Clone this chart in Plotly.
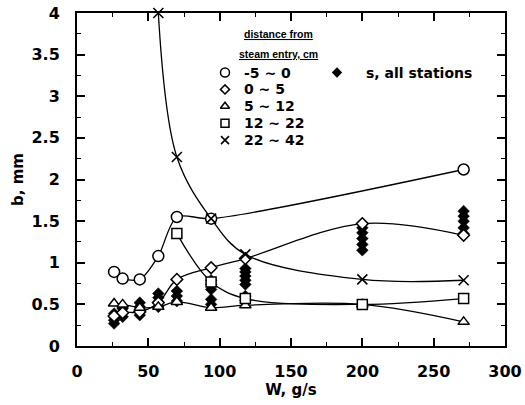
import plotly.graph_objects as go

# ---- data ----
W_c = [26, 32, 44, 57, 70, 94, 271]                 # -5 ~ 0   (open circles)
b_c = [0.89, 0.81, 0.80, 1.08, 1.55, 1.53, 2.12]

W_d = [26, 32, 44, 57, 70, 94, 118, 200, 271]       # 0 ~ 5    (open diamonds)
b_d = [0.36, 0.40, 0.41, 0.52, 0.80, 0.94, 1.05, 1.47, 1.33]

W_t = [26, 32, 44, 57, 70, 94, 118, 200, 271]       # 5 ~ 12   (triangles)
b_t = [0.51, 0.50, 0.46, 0.47, 0.53, 0.46, 0.49, 0.50, 0.29]

W_q = [70, 94, 118, 200, 271]                        # 12 ~ 22  (squares)
b_q = [1.35, 0.77, 0.57, 0.50, 0.57]

W_x = [57, 70, 94, 118, 200, 271]                    # 22 ~ 42  (crosses)
b_x = [4.0, 2.27, 1.53, 1.10, 0.80, 0.79]

W_s = [26, 26, 26, 26, 32, 32, 32, 44, 44, 44, 44, 57, 57, 57, 57,
       70, 70, 70, 94, 94, 94, 94, 94, 118, 118, 118, 118, 118, 118, 118,
       200, 200, 200, 200, 200, 271, 271, 271, 271, 271]   # s, all stations
b_s = [0.27, 0.31, 0.35, 0.39, 0.35, 0.40, 0.45, 0.37, 0.42, 0.47, 0.52,
       0.47, 0.53, 0.58, 0.63, 0.54, 0.60, 0.66, 0.50, 0.56, 0.68, 0.74, 0.79,
       0.55, 0.60, 0.74, 0.79, 0.84, 0.89, 0.93,
       1.15, 1.22, 1.29, 1.36, 1.42, 1.35, 1.42, 1.50, 1.56, 1.62]

legend_labels = ["-5 ~ 0", "0 ~ 5", "5 ~ 12", "12 ~ 22", "22 ~ 42"]
legend_header = ["distance from", "steam entry, cm"]
s_label = "s, all stations"

x_ticks = [0, 50, 100, 150, 200, 250, 300]
y_ticks = [0, 0.5, 1, 1.5, 2, 2.5, 3, 3.5, 4]

# ---- styling ----
FONT = "DejaVu Sans"
LW = 1.3
series = [
    (W_c, b_c, 0.8, dict(symbol="circle", size=11, color="white", line=dict(color="black", width=1.5))),
    (W_d, b_d, 1.0, dict(symbol="diamond", size=9, color="white", line=dict(color="black", width=1.5))),
    (W_t, b_t, 1.0, dict(symbol="triangle-up", size=10, color="white", line=dict(color="black", width=1.5))),
    (W_q, b_q, 1.0, dict(symbol="square", size=10, color="white", line=dict(color="black", width=1.5))),
    (W_x, b_x, 1.0, dict(symbol="x-thin-open", size=10, color="black", line=dict(color="black", width=1.6))),
]

fig = go.Figure()

fig.add_trace(go.Scatter(x=W_s, y=b_s, mode="markers",
                         marker=dict(symbol="diamond", size=9, color="black",
                                     line=dict(color="black", width=0.5)),
                         showlegend=False, cliponaxis=False))

for xs, ys, sm, mk in series:
    fig.add_trace(go.Scatter(x=xs, y=ys, mode="lines",
                             line=dict(color="black", width=LW, shape="spline", smoothing=sm),
                             showlegend=False))
for xs, ys, sm, mk in series:
    fig.add_trace(go.Scatter(x=xs, y=ys, mode="markers", marker=mk,
                             showlegend=False, cliponaxis=False))

# ---- layout geometry ----
WIDTH, HEIGHT = 525, 405
L, T, R, B = 77, 13, 20, 59
pw, ph = WIDTH - L - R, HEIGHT - T - B

def px2p(px, py):
    return (px - L) / pw, (HEIGHT - B - py) / ph

sym_px = 225
txt_px = 242
row0, drow = 72.5, 16.9
for i, (lab, (_, _, _, mk)) in enumerate(zip(legend_labels, series)):
    py = row0 + i * drow
    sx, sy = px2p(sym_px, py)
    m = dict(mk)
    m["size"] = max(m["size"] - 2, 7)
    fig.add_trace(go.Scatter(x=[sx], y=[sy], mode="markers", marker=m,
                             xaxis="x2", yaxis="y2", showlegend=False, hoverinfo="skip"))
    tx, ty = px2p(txt_px, py)
    fig.add_annotation(x=tx, y=ty, xref="paper", yref="paper", text=lab,
                       showarrow=False, xanchor="left", yanchor="middle",
                       font=dict(family=FONT, size=14, color="black", weight="bold"))

sx, sy = px2p(337, row0)
fig.add_trace(go.Scatter(x=[sx], y=[sy], mode="markers",
                         marker=dict(symbol="diamond", size=8, color="black"),
                         xaxis="x2", yaxis="y2", showlegend=False, hoverinfo="skip"))
tx, ty = px2p(364, row0)
fig.add_annotation(x=tx, y=ty, xref="paper", yref="paper", text=s_label,
                   showarrow=False, xanchor="left", yanchor="middle",
                   font=dict(family=FONT, size=14, color="black", weight="bold"))

for j, h in enumerate(legend_header):
    hx, hy = px2p(278, 34 + j * 20)
    fig.add_annotation(x=hx, y=hy, xref="paper", yref="paper", text=h,
                       showarrow=False, xanchor="center", yanchor="middle",
                       font=dict(family="Liberation Sans", size=10.5,
                                 color="black", weight="bold", lineposition="under"))

axis_font = dict(family=FONT, size=16, color="black", weight="bold")
common = dict(showline=True, linecolor="black", linewidth=2, mirror="ticks",
              ticks="inside", ticklen=8, tickwidth=1.5, tickcolor="black",
              showgrid=False, zeroline=False, tickfont=axis_font, automargin=False,
              ticklabeloverflow="allow")

fig.update_layout(
    width=WIDTH, height=HEIGHT,
    margin=dict(l=L, r=R, t=T, b=B, autoexpand=False),
    paper_bgcolor="white", plot_bgcolor="white",
    xaxis=dict(range=[0, 300], tickvals=x_ticks, **common,
               minor=dict(dtick=25, ticklen=4, ticks="inside", tickcolor="black", tickwidth=1.2),
               ticklabelstandoff=10,
               title=dict(text="W, g/s", standoff=2,
                          font=dict(family=FONT, size=15, color="black", weight="bold"))),
    yaxis=dict(range=[0, 4], tickvals=y_ticks, **common,
               minor=dict(dtick=0.25, ticklen=4, ticks="inside", tickcolor="black", tickwidth=1.2),
               ticklabelstandoff=12,
               title=dict(text="b, mm", standoff=4,
                          font=dict(family=FONT, size=15, color="black", weight="bold"))),
    xaxis2=dict(range=[0, 1], overlaying="x", visible=False, anchor="y2"),
    yaxis2=dict(range=[0, 1], overlaying="y", visible=False, anchor="x2"),
)

fig.write_html("out.html", config={"displayModeBar": False},
               post_script="document.body.style.margin='0px';document.body.style.padding='0px';")
